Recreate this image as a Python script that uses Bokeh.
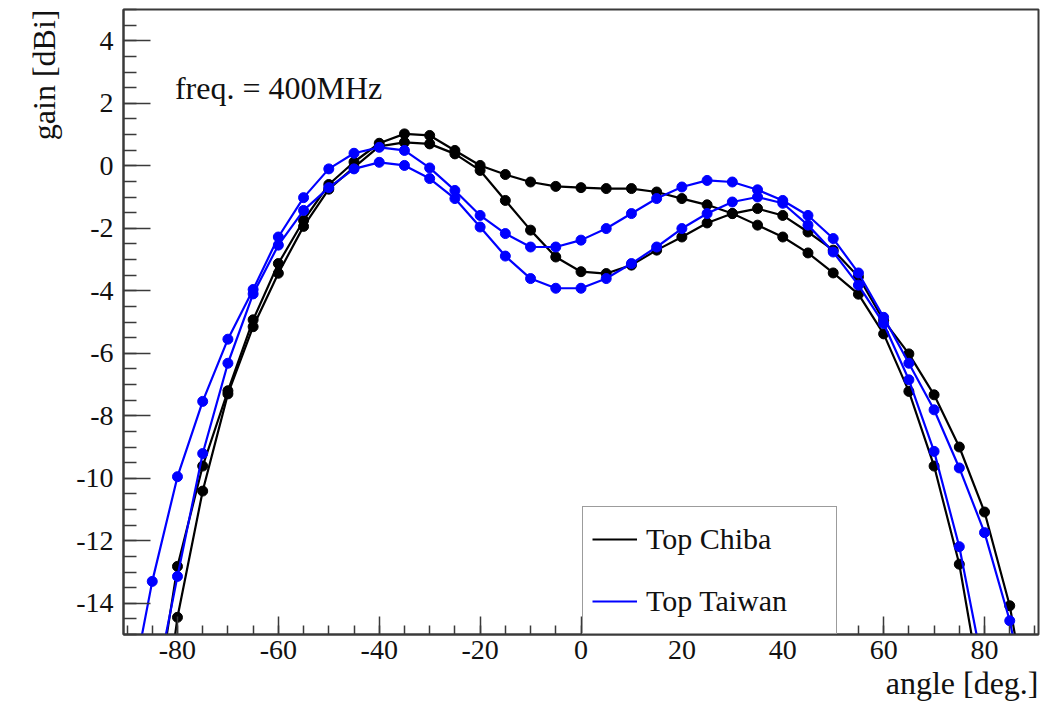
from bokeh.plotting import figure
from bokeh.models import Range1d, FixedTicker, Label, Legend, LegendItem, Title
from bokeh.embed import file_html
from bokeh.resources import INLINE

# ---- data ----
angles = [-90, -85, -80, -75, -70, -65, -60, -55, -50, -45, -40, -35, -30, -25, -20,
          -15, -10, -5, 0, 5, 10, 15, 20, 25, 30, 35, 40, 45, 50, 55, 60, 65, 70, 75,
          80, 85, 90]

chiba_1 = [-24.0, -18.0, -12.82, -9.61, -7.20, -4.93, -3.13, -1.75, -0.60, 0.12, 0.72,
           1.02, 0.97, 0.49, 0.01, -0.28, -0.52, -0.66, -0.70, -0.73, -0.73, -0.84,
           -1.05, -1.25, -1.53, -1.90, -2.28, -2.79, -3.43, -4.11, -5.38, -7.22, -9.61,
           -12.75, -17.4, -22.0, -27.0]
chiba_2 = [-27.0, -20.5, -14.45, -10.41, -7.30, -5.15, -3.44, -1.94, -0.75, -0.05, 0.62,
           0.75, 0.70, 0.38, -0.15, -1.11, -2.06, -2.92, -3.39, -3.45, -3.18, -2.70,
           -2.28, -1.83, -1.53, -1.37, -1.59, -2.12, -2.70, -3.55, -4.95, -6.02, -7.33,
           -9.00, -11.08, -14.08, -18.6]
taiwan_1 = [-17.5, -13.30, -9.95, -7.54, -5.55, -3.96, -2.28, -1.02, -0.10, 0.40, 0.59,
            0.49, -0.07, -0.79, -1.59, -2.17, -2.60, -2.60, -2.38, -2.01, -1.53, -1.05,
            -0.68, -0.47, -0.52, -0.77, -1.11, -1.59, -2.33, -3.43, -4.85, -6.32, -7.81,
            -9.67, -11.74, -14.56, -18.5]
taiwan_2 = [-21.0, -17.2, -13.14, -9.21, -6.32, -4.10, -2.54, -1.43, -0.70, -0.10, 0.11,
            0.01, -0.41, -1.05, -1.96, -2.89, -3.61, -3.92, -3.92, -3.61, -3.13, -2.60,
            -2.01, -1.53, -1.16, -1.00, -1.20, -1.90, -2.76, -3.82, -5.05, -6.85, -9.14,
            -12.19, -16.3, -20.0, -24.0]

x_major = [-80, -60, -40, -20, 0, 20, 40, 60, 80]
x_minor = list(range(-90, 91, 5))
y_major = [-14, -12, -10, -8, -6, -4, -2, 0, 2, 4]
y_minor = [v / 2 for v in range(-30, 11)]

legend_names = ["Top Chiba", "Top Taiwan"]
annotation_text = "freq. = 400MHz"
x_title = "angle [deg.]"
y_title = "gain [dBi]"

FONT = "Liberation Serif"
BLACK = "#000000"
BLUE = "#0000ff"
FRAME = "#3a3a3a"
TEXT = "#111111"

p = figure(width=1050, height=707, output_backend="svg", toolbar_location=None,
           x_range=Range1d(-90.7, 90.7), y_range=Range1d(-15, 5),
           min_border_left=123, min_border_right=12, min_border_top=9,
           min_border_bottom=73)
p.background_fill_color = "white"
p.border_fill_color = "white"
p.outline_line_color = FRAME
p.outline_line_width = 2
p.xgrid.visible = False
p.ygrid.visible = False

p.xaxis.ticker = FixedTicker(ticks=x_major, minor_ticks=x_minor)
p.yaxis.ticker = FixedTicker(ticks=y_major, minor_ticks=y_minor)
p.xaxis.major_label_overrides = {v: str(v) for v in x_major}
p.yaxis.major_label_overrides = {v: str(v) for v in y_major}

for ax in (p.xaxis[0], p.yaxis[0]):
    ax.axis_line_color = FRAME
    ax.axis_line_width = 2
    ax.major_tick_line_color = FRAME
    ax.minor_tick_line_color = FRAME
    ax.major_tick_line_width = 1.5
    ax.minor_tick_line_width = 1.5
    ax.major_tick_out = 0
    ax.minor_tick_out = 0
    ax.major_label_text_font = FONT
    ax.major_label_text_font_size = "28px"
    ax.major_label_text_color = TEXT

p.xaxis.major_tick_in = 18
p.xaxis.minor_tick_in = 9
p.yaxis.major_tick_in = 27
p.yaxis.minor_tick_in = 13
p.xaxis.major_label_standoff = 6
p.yaxis.major_label_standoff = 10

series = [(chiba_1, BLACK), (chiba_2, BLACK), (taiwan_1, BLUE), (taiwan_2, BLUE)]
line_renderers = []
for vals, col in series:
    r = p.line(angles, vals, line_color=col, line_width=2.2)
    p.scatter(angles, vals, size=10, fill_color=col, line_color=col)
    line_renderers.append(r)

legend = Legend(items=[LegendItem(label=legend_names[0], renderers=[line_renderers[0]]),
                       LegendItem(label=legend_names[1], renderers=[line_renderers[2]])],
                location=(459, 0))
legend.label_text_font = FONT
legend.label_text_font_size = "30px"
legend.label_text_color = TEXT
legend.padding = 9
legend.spacing = 16
legend.glyph_width = 45
legend.glyph_height = 46
legend.label_height = 46
legend.label_width = 181
legend.label_standoff = 9
legend.border_line_color = FRAME
legend.border_line_width = 1.5
legend.background_fill_color = "white"
legend.background_fill_alpha = 1.0
legend.margin = 0
p.add_layout(legend, "center")

p.add_layout(Label(x=-80.5, y=2.5, text=annotation_text, text_font=FONT,
                   text_font_size="32px", text_color=TEXT,
                   text_baseline="middle", text_align="left"))

xt = Title(text=x_title, align="right", text_font=FONT, text_font_size="32px",
           text_font_style="normal", text_color=TEXT, standoff=2)
p.add_layout(xt, "below")
yt = Title(text=y_title, align="right", text_font=FONT, text_font_size="32px",
           text_font_style="normal", text_color=TEXT, standoff=24)
p.add_layout(yt, "left")

open("out.html", "w").write(file_html(p, INLINE))
